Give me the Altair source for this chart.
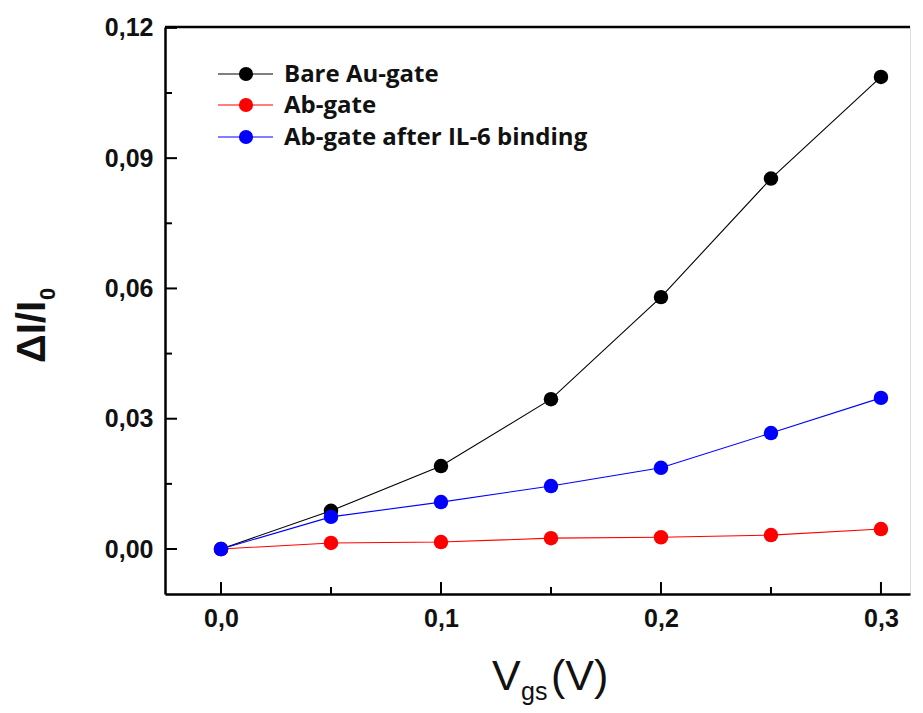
import altair as alt
import pandas as pd

# ---- data ----
vgs = [0.0, 0.05, 0.10, 0.15, 0.20, 0.25, 0.30]
series = ["Bare Au-gate", "Ab-gate", "Ab-gate after IL-6 binding"]
colors = ["#000000", "#ff0000", "#0000ff"]
bare_au = [0.0, 0.0088, 0.0191, 0.0345, 0.0580, 0.0853, 0.1087]
ab_gate = [0.0, 0.0014, 0.0016, 0.0025, 0.0027, 0.0032, 0.0046]
ab_il6 = [0.0, 0.0074, 0.0108, 0.0145, 0.0187, 0.0267, 0.0348]

y_major = [0.0, 0.03, 0.06, 0.09, 0.12]
y_minor = [0.015, 0.045, 0.075, 0.105]
x_major = [0.0, 0.1, 0.2, 0.3]
x_minor = [0.05, 0.15, 0.25]

y_title = ["ΔI/I", "0"]
x_title = ["V", "gs", "(V)"]

W, H = 745, 567

rows = []
for name, vals in zip(series, [bare_au, ab_gate, ab_il6]):
    for xv, yv in zip(vgs, vals):
        rows.append({"x": xv, "y": yv, "series": name})
df = pd.DataFrame(rows)

xs = alt.Scale(domain=[-0.02545, 0.3132], nice=False, zero=False)
ys = alt.Scale(domain=[-0.01036, 0.1202], nice=False, zero=False)
cs = alt.Scale(domain=series, range=colors)

xaxis = alt.Axis(values=x_major, ticks=False, grid=False, title=None,
                 labelExpr="replace(format(datum.value, '.1f'), '.', ',')",
                 labelFont="Liberation Sans", labelFontSize=25, labelFontWeight="bold",
                 labelColor="#111", labelPadding=12, domainColor="#000", domainWidth=2.5)
yaxis = alt.Axis(values=y_major, ticks=False, grid=False, title=None,
                 labelExpr="replace(format(datum.value, '.2f'), '.', ',')",
                 labelFont="Liberation Sans", labelFontSize=25, labelFontWeight="bold",
                 labelColor="#111", labelPadding=12, domainColor="#000", domainWidth=2.5)

X = alt.X("x:Q", scale=xs, axis=xaxis)
Y = alt.Y("y:Q", scale=ys, axis=yaxis)

lines = alt.Chart(df).mark_line(strokeWidth=1.1).encode(
    x=X, y=Y, color=alt.Color("series:N", scale=cs, legend=None), detail="series:N")
points = alt.Chart(df).mark_point(filled=True, size=210, opacity=1).encode(
    x=X, y=Y, color=alt.Color("series:N", scale=cs, legend=None))

# inward ticks
ymaj = alt.Chart(pd.DataFrame({"y": y_major})).mark_rule(color="#000", strokeWidth=2).encode(
    y=Y, x=alt.value(0), x2=alt.value(12))
ymin = alt.Chart(pd.DataFrame({"y": y_minor})).mark_rule(color="#000", strokeWidth=2).encode(
    y=Y, x=alt.value(0), x2=alt.value(7))
xmaj = alt.Chart(pd.DataFrame({"x": x_major})).mark_rule(color="#000", strokeWidth=2).encode(
    x=X, y=alt.value(H), y2=alt.value(H - 12))
xmin = alt.Chart(pd.DataFrame({"x": x_minor})).mark_rule(color="#000", strokeWidth=2).encode(
    x=X, y=alt.value(H), y2=alt.value(H - 7))
topline = alt.Chart(pd.DataFrame({"x": [0]})).mark_rule(color="#000", strokeWidth=2.5).encode(
    x=alt.value(0), x2=alt.value(W), y=alt.value(0))

layers = [lines, points, ymaj, ymin, xmaj, xmin, topline]

# legend (manual, inside plot)
leg_y = [47, 78, 110]
for name, col, ly in zip(series, colors, leg_y):
    d = pd.DataFrame({"name": [name]})
    layers.append(alt.Chart(d).mark_rule(color=col, strokeWidth=1.2).encode(
        x=alt.value(53), x2=alt.value(108), y=alt.value(ly)))
    layers.append(alt.Chart(d).mark_point(filled=True, size=200, opacity=1, color=col).encode(
        x=alt.value(81), y=alt.value(ly)))
    layers.append(alt.Chart(d).mark_text(align="left", baseline="middle", font="Open Sans",
                                         fontWeight="bold", fontSize=24, color="#111").encode(
        text="name:N", x=alt.value(119), y=alt.value(ly + 1)))

# axis titles as text
def txt(t, x, y, size, angle=0, align="left", weight="bold"):
    return alt.Chart(pd.DataFrame({"t": [t]})).mark_text(
        align=align, baseline="alphabetic", font="Liberation Sans", fontSize=size,
        fontWeight=weight, angle=angle, color="#111").encode(
        text="t:N", x=alt.value(x), y=alt.value(y))

layers.append(txt(y_title[0], -120, 305, 40, angle=270, align="center"))
layers.append(txt(y_title[1], -110, 273, 22, angle=270, align="left"))
layers.append(txt(x_title[0], 327, 663, 43, weight="normal"))
layers.append(txt(x_title[1], 356, 673, 25, weight="normal"))
layers.append(txt(x_title[2], 386, 663, 43, weight="normal"))

chart = alt.layer(*layers).properties(
    width=W, height=H,
    autosize=alt.AutoSizeParams(type="none"),
    padding={"left": 157, "top": 19, "right": 5, "bottom": 111},
).configure_view(stroke=None).configure(background="white")

chart.save("out.html", embed_options={"renderer": "svg", "actions": False})
